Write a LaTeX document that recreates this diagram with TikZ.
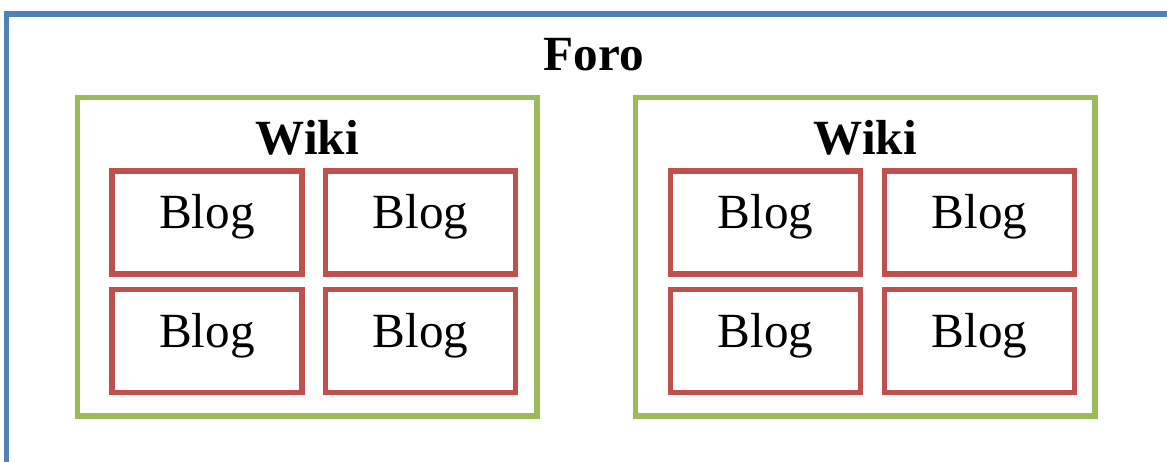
\documentclass[tikz,border=0pt]{standalone}
\usepackage{fontspec}
\setmainfont{Liberation Serif}
\definecolor{foroblue}{RGB}{79,129,189}
\definecolor{wikigreen}{RGB}{155,187,89}
\definecolor{blogred}{RGB}{192,80,77}
\tikzset{
  px/.style={x=0.02cm,y=-0.02cm},
  bigfont/.style={font=\fontsize{28}{32}\selectfont},
  forobox/.style={draw=foroblue,line width=3pt},
  wikibox/.style={draw=wikigreen,line width=3.2pt,rectangle,inner sep=0pt,
    minimum width=9.19cm,minimum height=6.37cm},
  blogbox/.style={draw=blogred,line width=3.1pt,rectangle,inner sep=0pt,bigfont,
    minimum width=3.8cm,minimum height=2.06cm,text height=0.6cm,text depth=0.34cm},
  title/.style={font=\fontsize{28}{32}\selectfont\bfseries,anchor=base,inner sep=0pt},
}
\begin{document}
\begin{tikzpicture}[px]
\useasboundingbox (0,0) rectangle (1167,462);
% outer forum frame, running off the right and bottom edges
\coordinate (foroTR) at (1175,14);
\coordinate (foroTL) at (6.5,14);
\coordinate (foroBL) at (6.5,470);
\draw[forobox] (foroTR) -- (foroTL) -- (foroBL);
\node[title] (foro) at (593.5,71) {Foro};

% left wiki
\node[wikibox] (wikiA) at (307.25,256.75) {};
\node[title] (wikiAt) at (307.25,155) {Wiki};
\node[blogbox] (a11) at (207,222.5) {Blog};
\node[blogbox] (a12) at (420.5,222.5) {Blog};
\node[blogbox] (a21) at (207,340.75) {Blog};
\node[blogbox] (a22) at (420.5,340.75) {Blog};

% right wiki
\node[wikibox] (wikiB) at (865.25,256.75) {};
\node[title] (wikiBt) at (865.25,155) {Wiki};
\node[blogbox] (b11) at (765.5,222.5) {Blog};
\node[blogbox] (b12) at (979.5,222.5) {Blog};
\node[blogbox] (b21) at (765.5,340.75) {Blog};
\node[blogbox] (b22) at (979.5,340.75) {Blog};
\end{tikzpicture}
\end{document}
